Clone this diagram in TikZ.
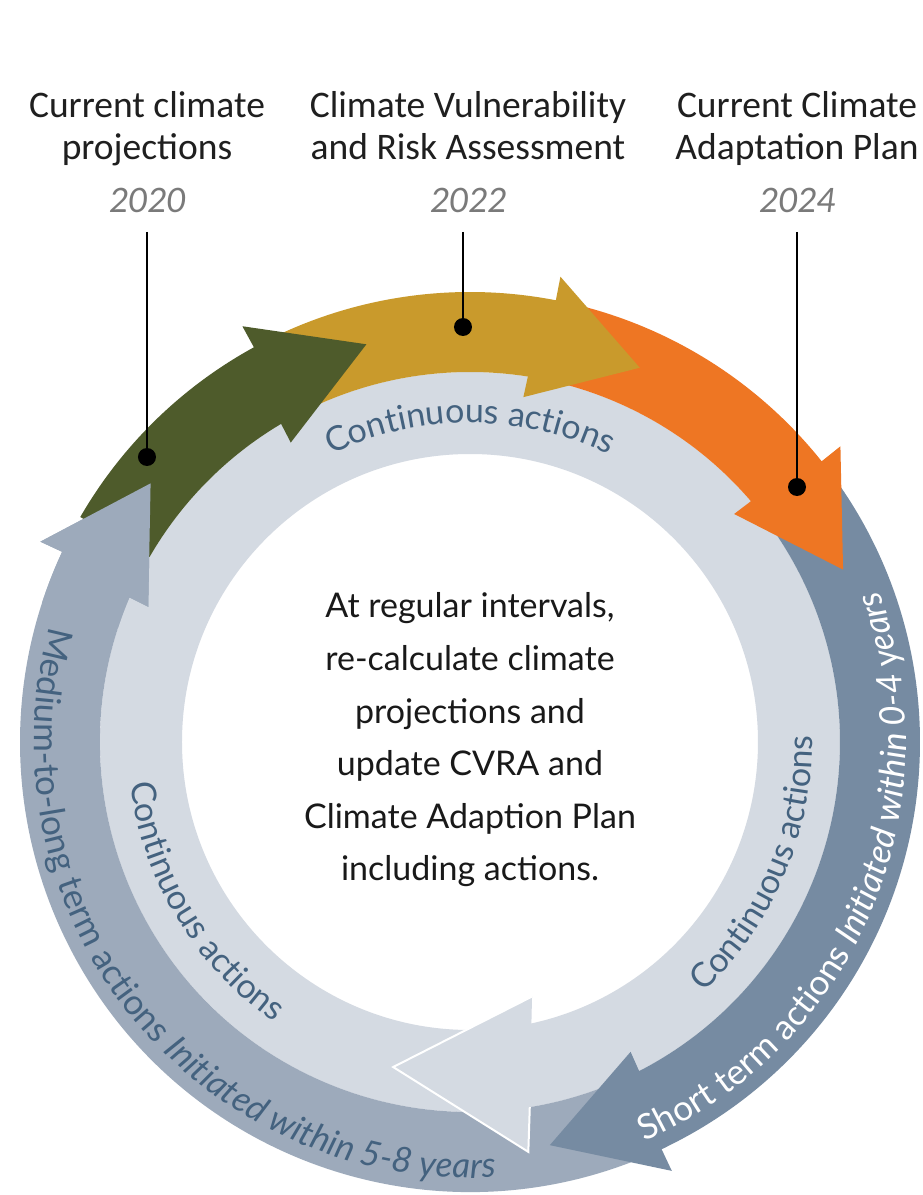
\documentclass[tikz,border=0pt]{standalone}
\usepackage{fontspec}
\setmainfont{Lato}
\newfontfamily\carlito{Carlito}
\usetikzlibrary{decorations.text}
\definecolor{cgreen}{HTML}{4E5B2B}
\definecolor{cyellow}{HTML}{C99A2C}
\definecolor{corange}{HTML}{EE7623}
\definecolor{cshort}{HTML}{768BA2}
\definecolor{cmed}{HTML}{9DAABB}
\definecolor{clight}{HTML}{D4DAE2}
\definecolor{cslate}{HTML}{44627F}
\definecolor{cyear}{HTML}{7A7A7A}
% #1 colour, #2 tail angle, #3 barb angle, #4 tip angle (clockwise arrow on outer band)
\newcommand\outerarrow[4]{%
  \fill[#1] (#2:450pt) arc[start angle=#2, end angle=#3, radius=450pt]
    -- (#3:474pt) -- (#4:411pt) -- ({#3+2.2}:349pt) -- ({#3+2}:370pt)
    arc[start angle={#3+2}, end angle=#2, radius=370pt] -- cycle;}
\newcommand\ringfont{\fontsize{35}{38}\selectfont}
\newcommand\contfont{\fontsize{34}{38}\selectfont}
\begin{document}
\begin{tikzpicture}[x=1pt,y=1pt,
  lbl/.style={font=\carlito\fontsize{37.5}{42}\selectfont, align=center, anchor=base, inner sep=0pt, text=black!88},
  yr/.style={font=\carlito\itshape\fontsize{37.5}{42}\selectfont, anchor=base, inner sep=0pt, text=cyear},
  dot/.style={circle, fill=black, minimum size=18pt, inner sep=0pt},
  leader/.style={draw=black, line width=2.5pt},
]
\useasboundingbox (-470,-453) rectangle (452,742);
\fill[white] (-470,-453) rectangle (452,742);

% inner light ring
\fill[clight, even odd rule] (0,0) circle[radius=370pt] (0,0) circle[radius=288pt];

% medium-to-long term arrow (body)
\outerarrow{cmed}{296}{155}{141}

% light ring arrow head at the bottom
\fill[clight] (-103.3:334pt) -- (-81.9:414pt) -- (-76.3:262pt) -- cycle;
\draw[white, line width=2pt, line join=miter] (-76.3:262pt) -- (-103.3:334pt) -- (-81.9:414pt) -- (-80.7:370pt);

% short term arrow
\outerarrow{cshort}{38}{-64.8}{-78.8}
% orange
\outerarrow{corange}{78}{38.6}{24.8}
% yellow
\outerarrow{cyellow}{118}{79}{65.6}
% green
\outerarrow{cgreen}{150}{118.7}{104.6}
% medium head on top of green tail
\outerarrow{cmed}{162}{155}{141}

% leaders and dots
\node[dot] (d2020) at (-323,285) {};
\node[dot] (d2022) at (-7,415) {};
\node[dot] (d2024) at (327,255) {};
\coordinate (t2020) at (-323,510);
\coordinate (t2022) at (-7,510);
\coordinate (t2024) at (327,510);
\draw[leader] (t2020) -- (d2020.center);
\draw[leader] (t2022) -- (d2022.center);
\draw[leader] (t2024) -- (d2024.center);

% top labels (anchor base = last line)
\node[lbl] (l2020) at (-323,582) {Current climate\\projections};
\node[lbl] (l2022) at (-2,582) {Climate Vulnerability\\and Risk Assessment};
\node[lbl] (l2024) at (327,582) {Current Climate\\Adaptation Plan};
\node[yr] (y2020) at (-323,529) {2020};
\node[yr] (y2022) at (-2,529) {2022};
\node[yr] (y2024) at (327,529) {2024};

% centre text
\node[font=\fontsize{34}{52.6}\selectfont, align=center, inner sep=0pt, text=black!90] (centre) at (0,2)
  {At regular intervals,\\re-calculate climate\\projections and\\update CVRA and\\Climate Adaption Plan\\including actions.};

% ring texts
\path[decorate, decoration={text along path, text align=center, text color=cslate,
  text={|\contfont|Continuous actions}}]
  (135:319pt) arc[start angle=135, end angle=45, radius=319pt];
\path[decorate, decoration={text along path, text align=center, text color=cslate,
  text={|\contfont|Continuous actions}}]
  (174:342pt) arc[start angle=174, end angle=248, radius=342pt];
\path[decorate, decoration={text along path, text align=center, text color=cslate,
  text={|\contfont|Continuous actions}}]
  (-60:342pt) arc[start angle=-60, end angle=14, radius=342pt];
\path[decorate, decoration={text along path, text align=center, text color=cslate,
  text={|\ringfont|Medium-to-long term actions |\ringfont\itshape|Initiated within 5-8 years}}]
  (144:436pt) arc[start angle=144, end angle=294, radius=436pt];
\path[decorate, decoration={text along path, text align=center, text color=white,
  text={|\ringfont|Short term actions |\ringfont\itshape|Initiated within 0-4 years}}]
  (-88:436pt) arc[start angle=-88, end angle=42, radius=436pt];
\end{tikzpicture}
\end{document}
